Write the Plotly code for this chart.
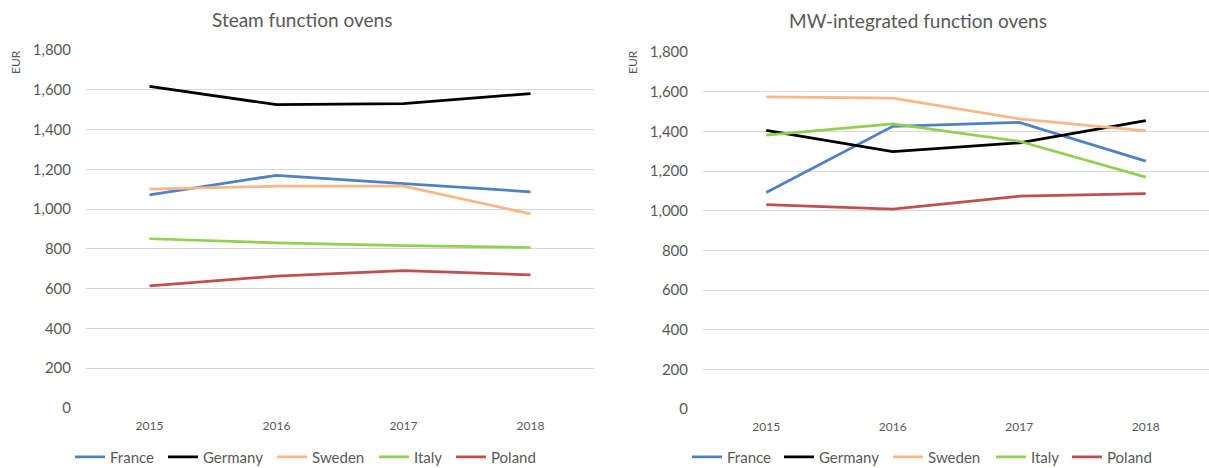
import plotly.graph_objects as go

# Average prices (EUR) by country and year
years = ["2015", "2016", "2017", "2018"]
countries = ["France", "Germany", "Sweden", "Italy", "Poland"]
colors = ["#4F81C7", "#000000", "#F8B888", "#92D050", "#C0504D"]

steam_france = [1072, 1170, 1128, 1087]
steam_germany = [1617, 1525, 1530, 1581]
steam_sweden = [1100, 1115, 1115, 976]
steam_italy = [851, 830, 816, 807]
steam_poland = [614, 663, 691, 669]

mw_france = [1092, 1425, 1445, 1250]
mw_germany = [1405, 1298, 1342, 1454]
mw_sweden = [1574, 1567, 1463, 1402]
mw_italy = [1381, 1437, 1350, 1169]
mw_poland = [1031, 1008, 1073, 1086]

steam = [steam_france, steam_germany, steam_sweden, steam_italy, steam_poland]
mw = [mw_france, mw_germany, mw_sweden, mw_italy, mw_poland]

W, H = 1209, 468
FONT = "Lato"
GREY = "#595959"
GRID = "#D9D9D9"

# left edge (px) of each legend key, one key per series and panel
legend_left_px = [[70, 163, 272, 374, 451], [687, 779, 888, 991, 1067]]

fig = go.Figure()
legend_layout = {}
n = 0
for panel, (data, xa, ya) in enumerate([(steam, "x", "y"), (mw, "x2", "y2")]):
    for i, (name, col, vals) in enumerate(zip(countries, colors, data)):
        n += 1
        lg = "legend" if n == 1 else f"legend{n}"
        fig.add_trace(go.Scatter(x=years, y=vals, name=name, mode="lines",
                                 line=dict(color=col, width=2.75),
                                 xaxis=xa, yaxis=ya, legend=lg))
        legend_layout[lg] = dict(
            orientation="h", yanchor="middle", xanchor="left",
            x=legend_left_px[panel][i] / W, y=1 - 457 / H,
            font=dict(family=FONT, size=15, color=GREY),
            bgcolor="rgba(0,0,0,0)", borderwidth=0)


def xax(domain, anchor):
    return dict(domain=domain, type="category", range=[-0.5, 3.5], anchor=anchor,
                showgrid=False, showline=False, zeroline=False,
                ticks="outside", ticklen=7, tickcolor="rgba(0,0,0,0)",
                tickfont=dict(family=FONT, size=12, color=GREY))


def yax(domain, anchor):
    return dict(domain=domain, range=[0, 1800], dtick=200, tickformat=",d",
                showgrid=True, gridcolor=GRID, gridwidth=1, zeroline=False,
                showline=False, ticklabelstandoff=14, anchor=anchor,
                tickfont=dict(family=FONT, size=15, color=GREY))


def label(text, x, y, size, angle=0):
    return dict(text=text, x=x / W, y=1 - y / H, xref="paper", yref="paper",
                xanchor="center", yanchor="middle", showarrow=False,
                textangle=angle, font=dict(family=FONT, size=size, color=GREY))


fig.update_layout(
    width=W, height=H,
    showlegend=True,
    margin=dict(l=0, r=0, t=0, b=0, autoexpand=False),
    paper_bgcolor="white", plot_bgcolor="white",
    font=dict(family=FONT, color=GREY),
    xaxis=xax([86 / W, 594 / W], "y"),
    yaxis=yax([1 - 408 / H, 1 - 50 / H], "x"),
    xaxis2=xax([703 / W, 1.0], "y2"),
    yaxis2=yax([1 - 409 / H, 1 - 52 / H], "x2"),
    annotations=[
        label("Steam function ovens", 302, 20, 19),
        label("MW-integrated function ovens", 918, 21, 19),
        label("EUR", 16, 62, 12, -90),
        label("EUR", 633, 62, 12, -90),
    ],
    **legend_layout,
)

fig.write_html("out.html")
